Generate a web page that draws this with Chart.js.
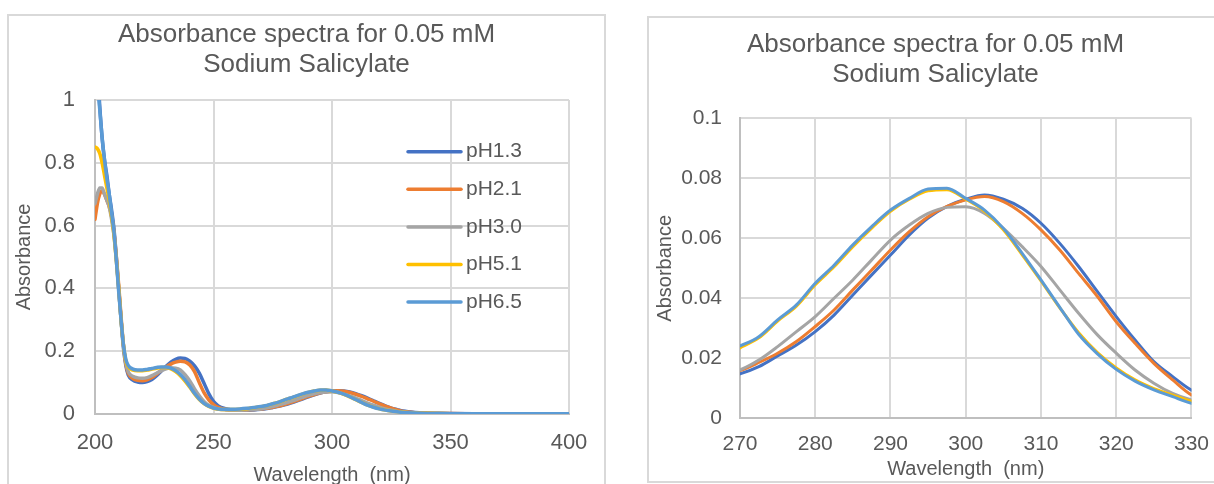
<!DOCTYPE html>
<html>
<head>
<meta charset="utf-8">
<title>Absorbance spectra for 0.05 mM Sodium Salicylate</title>
<script src="https://cdn.jsdelivr.net/npm/chart.js@4/dist/chart.umd.min.js"></script>
<style>
    html, body { margin: 0; padding: 0; background: #fff; width: 1214px; height: 484px; overflow: hidden; }
    .frame { position: absolute; border: 2px solid #d9d9d9; background: #fff; }
    #fullFrame { left: 7px; top: 14px; width: 595px; height: 471px; }
    #zoomFrame { left: 647px; top: 16px; width: 573px; height: 463px; }
</style>
</head>
<body>
<div class="frame" id="fullFrame"><canvas id="fullSpectrum"></canvas></div>
<div class="frame" id="zoomFrame"><canvas id="zoomSpectrum"></canvas></div>
<script>
// wavelength grid (nm) shared by every series
const wavelengths = [
    200, 201, 202, 203, 204, 205, 206, 207, 208, 209, 210, 211, 212, 213, 214,
    216, 218, 220, 222, 224, 226, 228, 230, 232, 234, 236, 238, 240, 242, 244, 246, 248, 250, 252,
    255, 258, 261, 264, 267,
    270, 272.5, 275, 277.5, 280, 282.5, 285, 287.5, 290, 292.5, 295, 297.5, 300,
    302.5, 305, 307.5, 310, 312.5, 315, 317.5, 320, 322.5, 325, 327.5, 330,
    335, 340, 345, 350, 360, 370, 380, 390, 400
];

const pH13 = [
    1.25, 1.1, 0.98, 0.88, 0.81, 0.76, 0.7, 0.65, 0.59, 0.5, 0.4, 0.3, 0.21, 0.155, 0.125,
    0.108, 0.102, 0.1, 0.103, 0.11, 0.122, 0.137, 0.152, 0.165, 0.174, 0.178, 0.177, 0.168, 0.153, 0.13, 0.098, 0.065, 0.04, 0.026,
    0.017, 0.013, 0.012, 0.012, 0.013,
    0.0148, 0.0172, 0.0208, 0.0244, 0.0289, 0.0344, 0.0411, 0.0478, 0.0544, 0.0611, 0.0667, 0.0706, 0.073,
    0.0744, 0.073, 0.07, 0.065, 0.0583, 0.0506, 0.0422, 0.0339, 0.0261, 0.0189, 0.0139, 0.0094,
    0.005, 0.003, 0.002, 0.0015, 0.001, 0.001, 0.001, 0.001, 0.001
];
const pH21 = [
    0.62, 0.67, 0.7, 0.71, 0.7, 0.68, 0.66, 0.63, 0.58, 0.5, 0.41, 0.31, 0.22, 0.16, 0.13,
    0.113, 0.107, 0.106, 0.109, 0.116, 0.127, 0.139, 0.15, 0.159, 0.165, 0.168, 0.166, 0.156, 0.135, 0.1, 0.068, 0.045, 0.03, 0.021,
    0.015, 0.013, 0.012, 0.013, 0.014,
    0.0159, 0.0186, 0.0217, 0.0256, 0.0306, 0.0361, 0.0428, 0.0494, 0.0561, 0.0622, 0.0672, 0.0706, 0.0728,
    0.0739, 0.0722, 0.0683, 0.0628, 0.0561, 0.0483, 0.0406, 0.0322, 0.025, 0.0183, 0.0128, 0.0078,
    0.0042, 0.0025, 0.0017, 0.0012, 0.001, 0.001, 0.001, 0.001, 0.001
];
const pH30 = [
    0.67, 0.7, 0.72, 0.72, 0.7, 0.68, 0.66, 0.62, 0.57, 0.49, 0.4, 0.3, 0.22, 0.165, 0.135,
    0.12, 0.115, 0.114, 0.116, 0.122, 0.13, 0.138, 0.144, 0.147, 0.146, 0.14, 0.125, 0.105, 0.08, 0.058, 0.04, 0.028, 0.021, 0.016,
    0.013, 0.012, 0.012, 0.013, 0.014,
    0.0161, 0.0194, 0.0239, 0.0289, 0.0339, 0.04, 0.0461, 0.0528, 0.0594, 0.0644, 0.0683, 0.0703, 0.0705,
    0.0683, 0.0633, 0.0572, 0.0506, 0.0428, 0.035, 0.0278, 0.0217, 0.0161, 0.0117, 0.0083, 0.0061,
    0.0035, 0.002, 0.0014, 0.001, 0.001, 0.001, 0.001, 0.001, 0.001
];
const pH51 = [
    0.85, 0.845, 0.83, 0.8, 0.76, 0.72, 0.68, 0.63, 0.57, 0.49, 0.4, 0.3, 0.22, 0.17, 0.15,
    0.14, 0.138, 0.138, 0.14, 0.143, 0.146, 0.148, 0.148, 0.144, 0.135, 0.122, 0.105, 0.085, 0.064, 0.046, 0.033, 0.024, 0.018, 0.015,
    0.014, 0.014, 0.015, 0.017, 0.02,
    0.0235, 0.0268, 0.0324, 0.0374, 0.0445, 0.0505, 0.0572, 0.0634, 0.069, 0.073, 0.0758, 0.0762, 0.073,
    0.069, 0.0628, 0.0545, 0.0458, 0.0368, 0.0285, 0.0219, 0.0168, 0.0128, 0.0099, 0.0077, 0.0057,
    0.003, 0.002, 0.0014, 0.001, 0.001, 0.001, 0.001, 0.001, 0.001
];
const pH65 = [
    1.3, 1.08, 0.97, 0.88, 0.81, 0.75, 0.7, 0.64, 0.58, 0.49, 0.39, 0.3, 0.22, 0.175, 0.155,
    0.143, 0.14, 0.14, 0.142, 0.145, 0.148, 0.15, 0.15, 0.146, 0.138, 0.126, 0.109, 0.088, 0.066, 0.048, 0.034, 0.025, 0.019, 0.016,
    0.015, 0.015, 0.016, 0.018, 0.021,
    0.0241, 0.0272, 0.0328, 0.0378, 0.045, 0.051, 0.0578, 0.0639, 0.0694, 0.0733, 0.0764, 0.0767, 0.0733,
    0.0694, 0.0633, 0.055, 0.0461, 0.037, 0.028, 0.0215, 0.0163, 0.0124, 0.0095, 0.0072, 0.005,
    0.003, 0.0019, 0.0013, 0.001, 0.001, 0.001, 0.001, 0.001, 0.001
];

const seriesLabels = ['pH1.3', 'pH2.1', 'pH3.0', 'pH5.1', 'pH6.5'];
const absorbance = [pH13, pH21, pH30, pH51, pH65];

const fullXTicks = [200, 250, 300, 350, 400];
const fullYTicks = [0, 0.2, 0.4, 0.6, 0.8, 1];
const zoomXTicks = [270, 280, 290, 300, 310, 320, 330];
const zoomYTicks = [0, 0.02, 0.04, 0.06, 0.08, 0.1];

const chartTitle = ['Absorbance spectra for 0.05 mM', 'Sodium Salicylate'];
const xTitle = 'Wavelength  (nm)';
const yTitle = 'Absorbance';

const seriesColors = ['#4472C4', '#ED7D31', '#A5A5A5', '#FFC000', '#5B9BD5'];
const textColor = '#595959';
const gridColor = '#d9d9d9';
const axisColor = '#bfbfbf';

Chart.defaults.font.family = '"Liberation Sans", Arial, Helvetica, sans-serif';

// legend drawn over the plot area, line sample + label per row
const lineLegend = {
    id: 'lineLegend',
    afterDraw(chart, args, opts) {
        const ctx = chart.ctx;
        ctx.save();
        ctx.font = opts.fontSize + 'px ' + Chart.defaults.font.family;
        ctx.textBaseline = 'middle';
        ctx.lineCap = 'round';
        chart.data.datasets.forEach((ds, i) => {
            const y = opts.y + i * opts.rowGap;
            ctx.strokeStyle = ds.borderColor;
            ctx.lineWidth = opts.lineWidth;
            ctx.beginPath();
            ctx.moveTo(opts.x, y);
            ctx.lineTo(opts.x + opts.lineLength, y);
            ctx.stroke();
            ctx.fillStyle = textColor;
            ctx.fillText(ds.label, opts.x + opts.lineLength + opts.textGap, y);
        });
        ctx.restore();
    }
};

function fixedTicks(values) {
    return scale => { scale.ticks = values.map(v => ({ value: v })); };
}

function buildChart(canvasId, view) {
    const datasets = seriesLabels.map((label, s) => ({
        label: label,
        data: wavelengths.map((w, i) => ({ x: w, y: absorbance[s][i] })),
        borderColor: seriesColors[s],
        backgroundColor: seriesColors[s],
        borderWidth: view.lineWidth,
        pointRadius: 0,
        cubicInterpolationMode: 'monotone',
        borderCapStyle: 'round',
        borderJoinStyle: 'round',
        order: seriesLabels.length - s,
    }));

    const config = {
        type: 'line',
        data: { datasets: datasets },
        options: {
            responsive: true,
            maintainAspectRatio: false,
            animation: false,
            events: [],
            layout: { padding: 0 },
            plugins: {
                legend: { display: false },
                tooltip: { enabled: false },
                title: {
                    display: true,
                    text: chartTitle,
                    color: textColor,
                    font: { size: 26, weight: 'normal', lineHeight: 1.13 },
                    padding: { top: view.titleTop, bottom: view.titleBottom },
                },
                lineLegend: view.legend || {},
            },
            scales: {
                x: {
                    type: 'linear',
                    min: view.xTicks[0],
                    max: view.xTicks[view.xTicks.length - 1],
                    afterBuildTicks: fixedTicks(view.xTicks),
                    afterFit: scale => { scale.height = view.xAxisHeight; },
                    grid: { color: gridColor, lineWidth: 2, drawTicks: false },
                    border: { color: axisColor, width: 2 },
                    ticks: {
                        color: textColor,
                        font: { size: view.tickSize },
                        padding: view.xTickPad,
                        maxRotation: 0,
                        callback: v => String(v),
                    },
                    title: {
                        display: true,
                        text: xTitle,
                        color: textColor,
                        font: { size: 20 },
                        padding: { top: 0, bottom: 0 },
                    },
                },
                y: {
                    type: 'linear',
                    min: view.yTicks[0],
                    max: view.yTicks[view.yTicks.length - 1],
                    afterBuildTicks: fixedTicks(view.yTicks),
                    afterFit: scale => { scale.width = view.yAxisWidth; },
                    grid: { color: gridColor, lineWidth: 2, drawTicks: false },
                    border: { color: axisColor, width: 2 },
                    ticks: {
                        color: textColor,
                        font: { size: view.tickSize },
                        padding: view.yTickPad,
                        callback: v => String(v),
                    },
                    title: {
                        display: true,
                        text: yTitle,
                        color: textColor,
                        font: { size: 20 },
                        padding: { top: view.yTitlePad, bottom: 0 },
                    },
                },
                // empty strip on the right so the plot ends short of the frame
                // while the title stays centred on the whole frame
                gutter: {
                    type: 'linear',
                    position: 'right',
                    display: true,
                    grid: { display: false, drawTicks: false },
                    border: { display: false },
                    ticks: { display: false },
                    afterFit: scale => { scale.width = view.padRight; },
                },
            },
        },
        plugins: view.legend ? [lineLegend] : [],
    };

    return new Chart(document.getElementById(canvasId), config);
}

// whole spectrum, 200-400 nm
buildChart('fullSpectrum', {
    xTicks: fullXTicks,
    yTicks: fullYTicks,
    lineWidth: 3.5,
    tickSize: 22,
    padRight: 35,
    titleTop: 4.5,
    titleBottom: 20.7,
    xAxisHeight: 73,
    yAxisWidth: 86,
    xTickPad: 15.5,
    yTickPad: 20,
    yTitlePad: 3,
    legend: { x: 399, y: 135.7, rowGap: 37.6, lineLength: 53, textGap: 5, lineWidth: 3.5, fontSize: 21 },
});

// close-up of the 300 nm band
buildChart('zoomSpectrum', {
    xTicks: zoomXTicks,
    yTicks: zoomYTicks,
    lineWidth: 3,
    tickSize: 21,
    padRight: 30.5,
    titleTop: 12.5,
    titleBottom: 29,
    xAxisHeight: 62.7,
    yAxisWidth: 91,
    xTickPad: 13,
    yTickPad: 18,
    yTitlePad: 4,
});
</script>
</body>
</html>
